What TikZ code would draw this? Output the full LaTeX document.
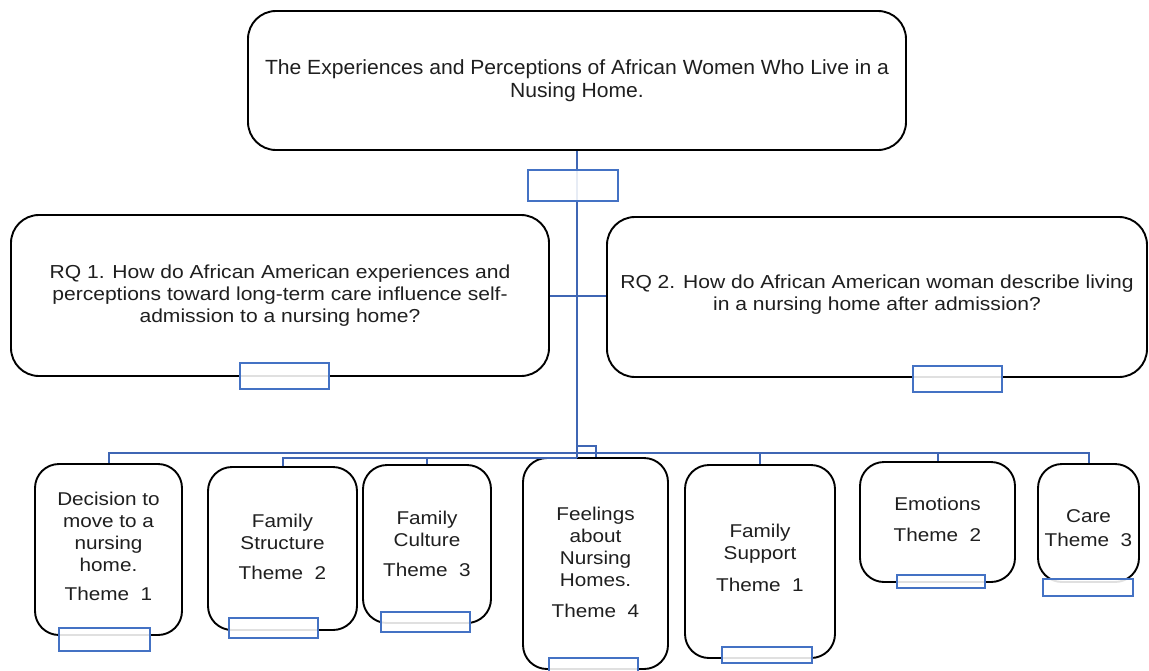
\documentclass[tikz,border=0pt]{standalone}
\usepackage{fontspec}
\setmainfont{Liberation Sans}
\newfontfamily\ttlfont{Liberation Sans}[FakeStretch=1.03]
\newfontfamily\bodyfont{Liberation Sans}[FakeStretch=1.12]
\definecolor{lnblue}{HTML}{4472C4}
\definecolor{cnblue}{HTML}{3F66B4}
\newcommand{\deepstrut}[1]{\rule[-#1]{0pt}{0pt}}
\newcommand{\tallstrut}[1]{\rule{0pt}{#1}}
\begin{document}
\begin{tikzpicture}[x=1pt,y=-1pt,
  box/.style={draw=black, line width=1.9pt, rounded corners=28pt, fill=white, inner sep=0pt, align=center, text=black!88},
  tbox/.style={box, rounded corners=24pt, font=\bodyfont\fontsize{18.5}{22}\selectfont},
  tag/.style={draw=lnblue, line width=1.7pt, fill=white, fill opacity=0.88, inner sep=0pt},
  conn/.style={draw=cnblue, line width=2pt}
]
\clip (0,0) rectangle (1149,670);
\fill[white] (0,0) rectangle (1149,670);

% top boxes
\node[box, minimum width=658pt, minimum height=139pt, font=\ttlfont\fontsize{20.5}{23}\selectfont] (title) at (577,80.5)
  {The Experiences and Perceptions of African Women Who Live in a\\Nusing Home.};
\node[box, minimum width=538pt, minimum height=161pt, font=\bodyfont\fontsize{18.8}{22}\selectfont] (rq1) at (280,295.5)
  {RQ 1. How do African American experiences and\\perceptions toward long-term care influence self-\\admission to a nursing home?};
\node[box, minimum width=540pt, minimum height=160pt, font=\bodyfont\fontsize{18.8}{22}\selectfont] (rq2) at (877,297)
  {RQ 2. How do African American woman describe living\\in a nursing home after admission?\deepstrut{8pt}};

% bottom boxes
\node[tbox, minimum width=147pt, minimum height=171pt] (dec) at (108.5,549.5)
  {Decision to\\move to a\\nursing\\home.\\[7pt]Theme~~1\deepstrut{7pt}};
\node[tbox, minimum width=149pt, minimum height=163pt] (fstr) at (282.5,548.5)
  {Family\\Structure\\[8pt]Theme~~2\deepstrut{3pt}};
\node[tbox, minimum width=128pt, minimum height=158pt] (fcul) at (427,544)
  {Family\\Culture\\[8pt]Theme~~3};
\node[tbox, minimum width=145pt, minimum height=211pt] (feel) at (595.5,563.5)
  {Feelings\\about\\Nursing\\Homes.\\[9pt]Theme~~4\deepstrut{3pt}};
\node[tbox, minimum width=150pt, minimum height=193pt] (fsup) at (760,561.5)
  {Family\\Support\\[10pt]Theme~~1\deepstrut{8pt}};
\node[tbox, minimum width=155pt, minimum height=120pt] (emo) at (937.5,522)
  {Emotions\\[9pt]Theme~~2\deepstrut{6pt}};
\node[tbox, minimum width=101pt, minimum height=118pt] (care) at (1088.5,523)
  {\tallstrut{24pt}Care\\[2pt]Theme~~3};

% connectors
\coordinate (hub) at (577,453);
\coordinate (hubb) at (577,458);
\coordinate (hubf) at (577,446);
\draw[conn] (title.south) -- (hubb);
\draw[conn] (rq1.east) -- (rq1.east -| rq2.west);
\draw[conn] (hub) -| (dec.north);
\draw[conn] (hubb) -| (fstr.north);
\draw[conn] (hubb) -| (fcul.north);
\draw[conn] (hubf) -| (feel.north);
\draw[conn] (hub) -| (fsup.north);
\draw[conn] (hub) -| (emo.north);
\draw[conn] (hub) -| (care.north);

% tags
\node[tag, minimum width=90pt, minimum height=31pt] (ttag) at (573,185.5) {};
\node[tag, minimum width=89pt, minimum height=26pt] (rq1tag) at (284.5,376) {};
\node[tag, minimum width=89pt, minimum height=26pt] (rq2tag) at (957.5,379) {};
\node[tag, minimum width=91pt, minimum height=23pt] (dectag) at (104.5,639.5) {};
\node[tag, minimum width=89pt, minimum height=20pt] (fstrtag) at (273.5,628) {};
\node[tag, minimum width=89pt, minimum height=20pt] (fcultag) at (425.5,622) {};
\node[tag, minimum width=89pt, minimum height=22pt] (feeltag) at (593.5,669) {};
\node[tag, minimum width=90pt, minimum height=16pt] (fsuptag) at (767,655) {};
\node[tag, minimum width=88pt, minimum height=13pt] (emotag) at (941,581.5) {};
\node[tag, minimum width=90pt, minimum height=17pt] (caretag) at (1088,587.5) {};
\end{tikzpicture}
\end{document}
